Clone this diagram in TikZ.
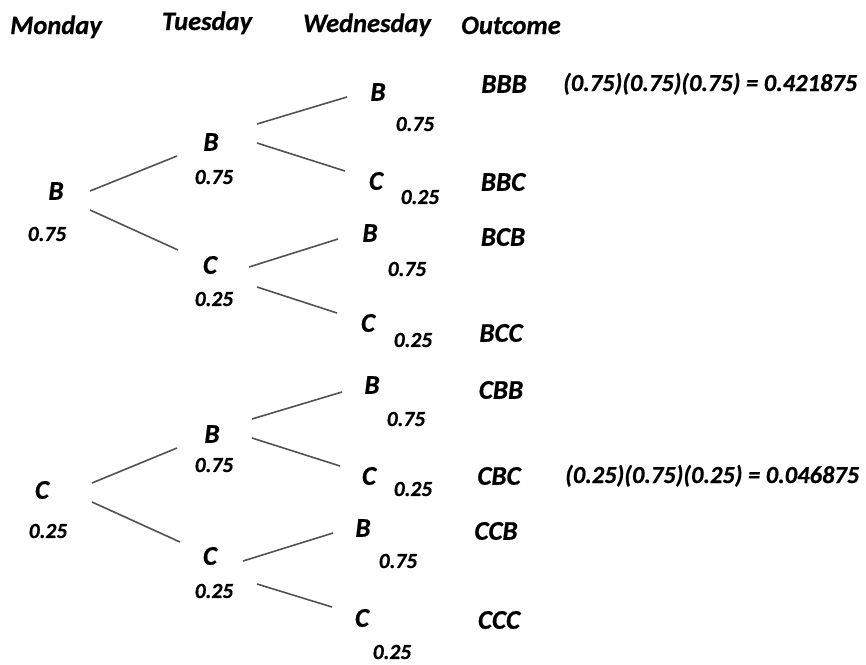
\documentclass[tikz,border=0pt]{standalone}
\usepackage{fontspec}
\setmainfont{Carlito}[BoldItalicFeatures={FakeBold=0.6}]
\begin{document}
\begin{tikzpicture}[x=1pt,y=-1pt,
  lbl/.style={inner sep=0pt,font=\fontsize{27}{31}\selectfont\bfseries\itshape},
  prob/.style={inner sep=0pt,font=\fontsize{21.5}{25}\selectfont\bfseries\itshape},
  hdr/.style={inner sep=0pt,anchor=base,font=\fontsize{26.5}{30}\selectfont\bfseries\itshape},
  eq/.style={inner sep=0pt,anchor=base west,font=\fontsize{24.5}{28}\selectfont\bfseries\itshape},
  br/.style={line width=1.6pt,draw=black!68}]
\useasboundingbox (0,0) rectangle (866,664);
% headers
\node[hdr] (hmon) at (56,34) {Monday};
\node[hdr] (htue) at (207,30) {Tuesday};
\node[hdr] (hwed) at (367,32) {Wednesday};
\node[hdr] (hout) at (511,34) {Outcome};
% level 1
\node[lbl] (a) at (56,191) {B};
\node[prob] (pa) at (47,234) {0.75};
\node[lbl] (e) at (42,490) {C};
\node[prob] (pe) at (48,531) {0.25};
% level 2
\node[lbl] (b) at (211,142) {B};
\node[prob] (pb) at (214,177) {0.75};
\node[lbl] (c) at (210,265) {C};
\node[prob] (pc) at (214,299) {0.25};
\node[lbl] (f) at (212,434) {B};
\node[prob] (pf) at (214,465) {0.75};
\node[lbl] (g) at (210,556) {C};
\node[prob] (pg) at (214,591) {0.25};
% level 3
\node[lbl] (d1) at (378,92) {B};
\node[prob] (pd1) at (415,124) {0.75};
\node[lbl] (d2) at (376,181) {C};
\node[prob] (pd2) at (420,197) {0.25};
\node[lbl] (d3) at (370,233) {B};
\node[prob] (pd3) at (407,269) {0.75};
\node[lbl] (d4) at (368,323) {C};
\node[prob] (pd4) at (413,340) {0.25};
\node[lbl] (h1) at (372,385) {B};
\node[prob] (ph1) at (406,419) {0.75};
\node[lbl] (h2) at (369,476) {C};
\node[prob] (ph2) at (413,489) {0.25};
\node[lbl] (h3) at (363,528) {B};
\node[prob] (ph3) at (398,561) {0.75};
\node[lbl] (h4) at (362,618) {C};
\node[prob] (ph4) at (392,652) {0.25};
% outcomes
\node[lbl] (o1) at (504,84) {BBB};
\node[lbl] (o2) at (503,182) {BBC};
\node[lbl] (o3) at (503,237) {BCB};
\node[lbl] (o4) at (501,333) {BCC};
\node[lbl] (o5) at (501,390) {CBB};
\node[lbl] (o6) at (499,476) {CBC};
\node[lbl] (o7) at (496,531) {CCB};
\node[lbl] (o8) at (499,620) {CCC};
\node[eq] (q1) at (563,91) {(0.75)(0.75)(0.75) = 0.421875};
\node[eq] (q2) at (565,483) {(0.25)(0.75)(0.25) = 0.046875};
% branches
\draw[br] ([shift={(34,0)}]a.center) -- ([shift={(-34,14)}]b.center);
\draw[br] ([shift={(34,19)}]a.center) -- ([shift={(-32,-15)}]c.center);
\draw[br] ([shift={(46,-18)}]b.center) -- ([shift={(-31,5)}]d1.center);
\draw[br] ([shift={(46,1)}]b.center) -- ([shift={(-31,-10)}]d2.center);
\draw[br] ([shift={(39,2)}]c.center) -- ([shift={(-32,6)}]d3.center);
\draw[br] ([shift={(47,22)}]c.center) -- ([shift={(-31,-10)}]d4.center);
\draw[br] ([shift={(50,-7)}]e.center) -- ([shift={(-35,14)}]f.center);
\draw[br] ([shift={(50,12)}]e.center) -- ([shift={(-30,-14)}]g.center);
\draw[br] ([shift={(40,-15)}]f.center) -- ([shift={(-30,7)}]h1.center);
\draw[br] ([shift={(40,4)}]f.center) -- ([shift={(-29,-10)}]h2.center);
\draw[br] ([shift={(33,5)}]g.center) -- ([shift={(-30,5)}]h3.center);
\draw[br] ([shift={(47,28)}]g.center) -- ([shift={(-30,-11)}]h4.center);
\end{tikzpicture}
\end{document}
